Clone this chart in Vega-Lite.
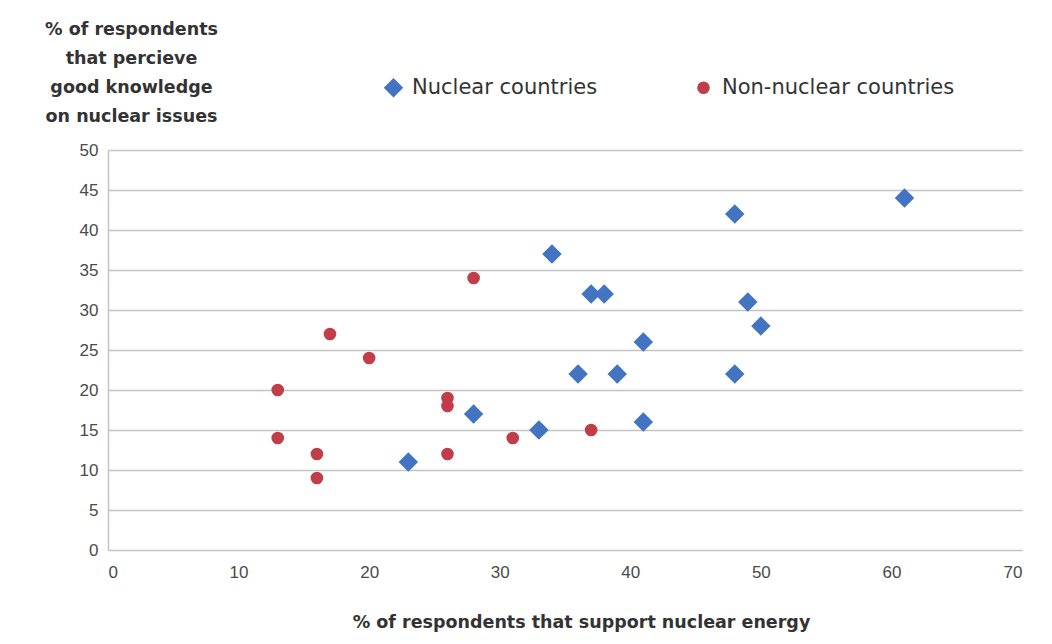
{
  "$schema": "https://vega.github.io/schema/vega-lite/v6.json",
  "width": 914,
  "height": 400,
  "autosize": {"type": "none"},
  "padding": {"left": 108, "top": 150, "right": 30, "bottom": 94},
  "background": "white",
  "config": {
    "font": "Liberation Sans",
    "view": {"stroke": null},
    "axis": {"labelFont": "Liberation Sans", "titleFont": "DejaVu Sans"},
    "legend": {"labelFont": "DejaVu Sans"}
  },
  "data": {
    "values": [
      {"support": 23, "knowledge": 11, "group": "Nuclear countries"},
      {"support": 28, "knowledge": 17, "group": "Nuclear countries"},
      {"support": 33, "knowledge": 15, "group": "Nuclear countries"},
      {"support": 34, "knowledge": 37, "group": "Nuclear countries"},
      {"support": 36, "knowledge": 22, "group": "Nuclear countries"},
      {"support": 37, "knowledge": 32, "group": "Nuclear countries"},
      {"support": 38, "knowledge": 32, "group": "Nuclear countries"},
      {"support": 39, "knowledge": 22, "group": "Nuclear countries"},
      {"support": 41, "knowledge": 26, "group": "Nuclear countries"},
      {"support": 41, "knowledge": 16, "group": "Nuclear countries"},
      {"support": 48, "knowledge": 42, "group": "Nuclear countries"},
      {"support": 48, "knowledge": 22, "group": "Nuclear countries"},
      {"support": 49, "knowledge": 31, "group": "Nuclear countries"},
      {"support": 50, "knowledge": 28, "group": "Nuclear countries"},
      {"support": 61, "knowledge": 44, "group": "Nuclear countries"},
      {"support": 13, "knowledge": 20, "group": "Non-nuclear countries"},
      {"support": 13, "knowledge": 14, "group": "Non-nuclear countries"},
      {"support": 16, "knowledge": 12, "group": "Non-nuclear countries"},
      {"support": 16, "knowledge": 9, "group": "Non-nuclear countries"},
      {"support": 17, "knowledge": 27, "group": "Non-nuclear countries"},
      {"support": 20, "knowledge": 24, "group": "Non-nuclear countries"},
      {"support": 26, "knowledge": 19, "group": "Non-nuclear countries"},
      {"support": 26, "knowledge": 18, "group": "Non-nuclear countries"},
      {"support": 26, "knowledge": 12, "group": "Non-nuclear countries"},
      {"support": 28, "knowledge": 34, "group": "Non-nuclear countries"},
      {"support": 31, "knowledge": 14, "group": "Non-nuclear countries"},
      {"support": 37, "knowledge": 15, "group": "Non-nuclear countries"}
    ]
  },
  "mark": {"type": "point", "filled": true, "opacity": 1},
  "encoding": {
    "x": {
      "field": "support",
      "type": "quantitative",
      "scale": {"domain": [0, 70], "nice": false, "zero": true},
      "axis": {
        "values": [0, 10, 20, 30, 40, 50, 60, 70],
        "grid": false,
        "domain": false,
        "ticks": false,
        "labelPadding": 14,
        "labelFontSize": 17,
        "labelColor": "#4a4a4a",
        "title": "% of respondents that support nuclear energy",
        "titleFontSize": 17.5,
        "titleFontWeight": "bold",
        "titleColor": "#333333",
        "titleX": 473,
        "titleY": 72,
        "titleAlign": "center",
        "titleBaseline": "middle"
      }
    },
    "y": {
      "field": "knowledge",
      "type": "quantitative",
      "scale": {"domain": [0, 50], "nice": false},
      "axis": {
        "values": [0, 5, 10, 15, 20, 25, 30, 35, 40, 45, 50],
        "grid": true,
        "gridColor": "#c4c4c4",
        "gridWidth": 1.5,
        "domain": true,
        "domainColor": "#c4c4c4",
        "domainWidth": 1.5,
        "ticks": false,
        "labelPadding": 10,
        "labelFontSize": 17,
        "labelColor": "#4a4a4a",
        "title": ["% of respondents", "that percieve", "good knowledge", "on nuclear issues"],
        "titleFontSize": 17.5,
        "titleFontWeight": "bold",
        "titleColor": "#333333",
        "titleAngle": 0,
        "titleAlign": "center",
        "titleBaseline": "middle",
        "titleLineHeight": 29,
        "titleX": 23,
        "titleY": -121
      }
    },
    "color": {
      "field": "group",
      "type": "nominal",
      "scale": {"domain": ["Nuclear countries", "Non-nuclear countries"], "range": ["#4274c2", "#c23d4a"]},
      "legend": {
        "title": null,
        "orient": "none",
        "direction": "horizontal",
        "legendX": 275,
        "legendY": -73,
        "labelFontSize": 21,
        "labelColor": "#333333",
        "labelLimit": 400,
        "columnPadding": 95,
        "symbolSize": 110,
        "labelOffset": 8
      }
    },
    "shape": {
      "field": "group",
      "type": "nominal",
      "scale": {"domain": ["Nuclear countries", "Non-nuclear countries"], "range": ["diamond", "circle"]},
      "legend": null
    },
    "size": {
      "field": "group",
      "type": "nominal",
      "scale": {"domain": ["Nuclear countries", "Non-nuclear countries"], "range": [380, 160]},
      "legend": null
    }
  }
}
